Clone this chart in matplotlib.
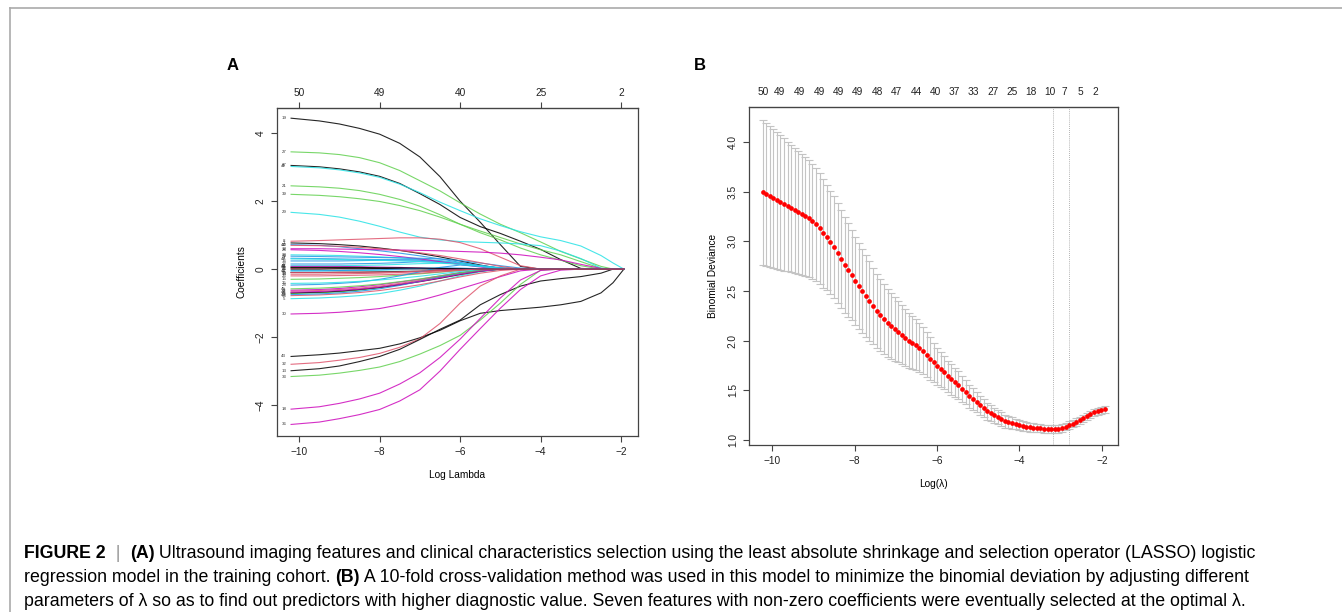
import numpy as np
import matplotlib
matplotlib.use('Agg')
import matplotlib.pyplot as plt
from matplotlib.lines import Line2D

plt.rcParams['font.family'] = ['Liberation Sans', 'DejaVu Sans']

W, H = 1342, 612

# R default palette, glmnet cycles col = 1:6 over the variables
r_cols = ['#000000', '#DF536B', '#61D04F', '#2297E6', '#28E2E5', '#CD0BBC']

# ---------------- panel A: LASSO coefficient paths ----------------
coef_knots = [-10.2, -9.5, -9, -8.5, -8, -7.5, -7, -6.5, -6, -5.5, -5, -4.5,
              -4, -3.5, -3, -2.5, -2.2, -1.93]

# large positive coefficients
pos_ids = [19, 27, 37, 41, 21, 39, 29]
pos_paths = [
    [4.44, 4.36, 4.27, 4.14, 3.97, 3.70, 3.30, 2.72, 2.00, 1.38, 0.72, 0.08, 0],
    [3.45, 3.42, 3.37, 3.28, 3.13, 2.90, 2.60, 2.30, 1.95, 1.62, 1.32, 1.07, 0.80, 0.52, 0.30, 0.08, 0],
    [3.05, 3.01, 2.95, 2.86, 2.73, 2.52, 2.22, 1.90, 1.52, 1.25, 1.05, 0.82, 0.58, 0.28, 0.02, 0],
    [3.02, 2.98, 2.92, 2.83, 2.70, 2.50, 2.25, 1.97, 1.72, 1.48, 1.28, 1.10, 0.95, 0.84, 0.68, 0.40, 0.18, 0],
    [2.45, 2.42, 2.38, 2.31, 2.20, 2.05, 1.85, 1.60, 1.32, 1.07, 0.86, 0.62, 0.42, 0.26, 0.10, 0],
    [2.20, 2.17, 2.13, 2.07, 1.99, 1.87, 1.72, 1.53, 1.32, 1.12, 0.93, 0.74, 0.57, 0.42, 0.22, 0.02, 0],
    [1.67, 1.61, 1.53, 1.41, 1.26, 1.09, 0.94, 0.86, 0.81, 0.79, 0.77, 0.74, 0.69, 0.53, 0.31, 0.03, 0],
]

# large negative coefficients
neg_ids = [30, 43, 32, 13, 33, 18, 36]
neg_paths = [
    [-1.32, -1.30, -1.27, -1.22, -1.16, -1.05, -0.92, -0.76, -0.58, -0.40, -0.22, -0.05, 0],
    [-2.57, -2.52, -2.47, -2.40, -2.33, -2.20, -2.02, -1.80, -1.52, -1.30, -1.22, -1.17, -1.12, -1.05, -0.95, -0.70, -0.40, 0],
    [-2.80, -2.75, -2.68, -2.60, -2.48, -2.30, -2.05, -1.60, -1.00, -0.50, -0.20, 0],
    [-2.99, -2.93, -2.85, -2.72, -2.57, -2.36, -2.07, -1.77, -1.50, -1.05, -0.75, -0.50, -0.35, -0.28, -0.22, -0.12, 0],
    [-3.16, -3.12, -3.06, -2.98, -2.88, -2.72, -2.50, -2.25, -1.95, -1.50, -1.00, -0.45, -0.03, 0],
    [-4.12, -4.05, -3.95, -3.82, -3.65, -3.38, -3.05, -2.60, -2.06, -1.45, -0.85, -0.32, -0.04, 0],
    [-4.57, -4.50, -4.40, -4.28, -4.13, -3.88, -3.55, -3.00, -2.36, -1.75, -1.15, -0.60, -0.20, -0.03, 0],
]

# small coefficients bunched around zero
small_ids = [1, 2, 3, 4, 5, 6, 7, 8, 9, 10, 11, 12, 14, 15, 16, 17, 20, 22,
             23, 24, 25, 26, 28, 31, 34, 35, 38, 40, 42, 44, 45, 46, 47, 48, 49, 50]
small_paths = [
    [0.77, 0.75, 0.72, 0.68, 0.62, 0.55, 0.46, 0.36, 0.24, 0.12, 0.02, 0],
    [-0.65, -0.63, -0.60, -0.56, -0.50, -0.42, -0.33, -0.22, -0.12, -0.04, 0],
    [-0.72, -0.70, -0.67, -0.62, -0.55, -0.46, -0.35, -0.24, -0.12, -0.05, -0.01, 0],
    [0.32, 0.31, 0.30, 0.29, 0.28, 0.27, 0.26, 0.22, 0.16, 0.10, 0.04, 0],
    [-0.87, -0.85, -0.82, -0.78, -0.72, -0.62, -0.50, -0.35, -0.20, -0.08, 0],
    [-0.62, -0.60, -0.57, -0.52, -0.46, -0.38, -0.30, -0.20, -0.10, -0.03, 0],
    [-0.10, -0.10, -0.09, -0.09, -0.08, -0.07, -0.06, -0.04, -0.02, 0],
    [0.82, 0.84, 0.86, 0.88, 0.90, 0.92, 0.92, 0.88, 0.78, 0.60, 0.35, 0.10, 0],
    [0.05, 0.05, 0.04, 0.04, 0.03, 0.02, 0.01, 0],
    [0.72, 0.70, 0.66, 0.60, 0.54, 0.47, 0.39, 0.30, 0.20, 0.10, 0.02, 0],
    [0.10, 0.10, 0.10, 0.11, 0.12, 0.14, 0.16, 0.17, 0.15, 0.10, 0.04, 0],
    [0.60, 0.60, 0.59, 0.58, 0.57, 0.56, 0.55, 0.54, 0.52, 0.50, 0.47, 0.42, 0.35, 0.27, 0.14, 0.02, 0],
    [-0.15, -0.15, -0.14, -0.13, -0.12, -0.10, -0.08, -0.05, -0.02, 0],
    [-0.30, -0.29, -0.27, -0.25, -0.22, -0.18, -0.14, -0.09, -0.04, -0.01, 0],
    [0.24, 0.24, 0.24, 0.25, 0.26, 0.27, 0.28, 0.25, 0.18, 0.10, 0.03, 0],
    [-0.05, -0.05, -0.04, -0.04, -0.03, -0.02, -0.01, 0],
    [0.02, 0.02, 0.02, 0.01, 0.01, 0],
    [0.15, 0.15, 0.15, 0.16, 0.17, 0.19, 0.22, 0.20, 0.15, 0.08, 0.02, 0],
    [0.42, 0.41, 0.40, 0.38, 0.36, 0.33, 0.29, 0.24, 0.17, 0.09, 0.02, 0],
    [0.57, 0.55, 0.52, 0.48, 0.43, 0.37, 0.30, 0.22, 0.14, 0.06, 0],
    [-0.70, -0.68, -0.65, -0.60, -0.54, -0.46, -0.37, -0.27, -0.16, -0.06, 0],
    [-0.20, -0.20, -0.19, -0.18, -0.17, -0.15, -0.12, -0.08, -0.04, -0.01, 0],
    [-0.47, -0.45, -0.42, -0.38, -0.30, -0.20, -0.08, 0.05, 0.12, 0.08, 0.02, 0],
    [0.00, 0.00, 0.01, 0.01, 0.02, 0.02, 0.02, 0.01, 0],
    [0.38, 0.37, 0.36, 0.35, 0.34, 0.33, 0.32, 0.30, 0.25, 0.18, 0.10, 0.03, 0],
    [-0.42, -0.41, -0.39, -0.36, -0.32, -0.27, -0.21, -0.14, -0.07, -0.02, 0],
    [-0.78, -0.76, -0.73, -0.69, -0.63, -0.55, -0.46, -0.35, -0.23, -0.12, -0.04, 0],
    [-0.75, -0.73, -0.70, -0.65, -0.58, -0.48, -0.36, -0.24, -0.12, -0.04, 0],
    [0.08, 0.08, 0.08, 0.07, 0.06, 0.05, 0.03, 0.01, 0],
    [0.70, 0.69, 0.67, 0.64, 0.60, 0.55, 0.48, 0.40, 0.30, 0.19, 0.08, 0],
    [-0.58, -0.56, -0.53, -0.49, -0.44, -0.37, -0.29, -0.20, -0.11, -0.04, 0],
    [-0.05, -0.05, -0.04, -0.03, -0.02, 0.00, 0.02, 0.04, 0.03, 0.01, 0],
    [0.30, 0.29, 0.28, 0.27, 0.26, 0.24, 0.22, 0.19, 0.14, 0.08, 0.02, 0],
    [-0.68, -0.66, -0.63, -0.59, -0.53, -0.45, -0.36, -0.26, -0.15, -0.06, 0],
    [0.05, 0.05, 0.05, 0.05, 0.04, 0.04, 0.03, 0.02, 0.01, 0],
    [-0.10, -0.10, -0.10, -0.09, -0.09, -0.08, -0.06, -0.04, -0.02, 0],
]

top_a_pos = [-10, -8, -6, -4, -2]
top_a_lab = ['50', '49', '40', '25', '2']

# ---------------- panel B: 10-fold CV binomial deviance ----------------
cv_loglam = [-10.23, -10.14, -10.06, -9.97, -9.88, -9.80, -9.71, -9.62, -9.54, -9.45,
             -9.37, -9.28, -9.19, -9.11, -9.02, -8.93, -8.85, -8.76, -8.67, -8.59,
             -8.50, -8.41, -8.33, -8.24, -8.15, -8.07, -7.98, -7.90, -7.81, -7.72,
             -7.64, -7.55, -7.46, -7.38, -7.29, -7.20, -7.12, -7.03, -6.94, -6.86,
             -6.77, -6.69, -6.60, -6.51, -6.43, -6.34, -6.25, -6.17, -6.08, -5.99,
             -5.91, -5.82, -5.73, -5.65, -5.56, -5.48, -5.39, -5.30, -5.22, -5.13,
             -5.04, -4.96, -4.87, -4.78, -4.70, -4.61, -4.52, -4.44, -4.35, -4.27,
             -4.18, -4.09, -4.01, -3.92, -3.83, -3.75, -3.66, -3.57, -3.49, -3.40,
             -3.31, -3.23, -3.14, -3.06, -2.97, -2.88, -2.80, -2.71, -2.62, -2.54,
             -2.45, -2.36, -2.28, -2.19, -2.10, -2.02, -1.93]
cv_mean = [3.49, 3.47, 3.45, 3.43, 3.41, 3.39, 3.37, 3.35, 3.33, 3.31,
           3.29, 3.27, 3.25, 3.23, 3.20, 3.17, 3.13, 3.08, 3.04, 2.99,
           2.94, 2.88, 2.82, 2.76, 2.71, 2.66, 2.60, 2.55, 2.50, 2.45,
           2.40, 2.35, 2.30, 2.26, 2.22, 2.18, 2.15, 2.12, 2.09, 2.06,
           2.03, 2.00, 1.98, 1.96, 1.93, 1.90, 1.86, 1.82, 1.78, 1.74,
           1.71, 1.68, 1.64, 1.61, 1.58, 1.55, 1.51, 1.48, 1.44, 1.41,
           1.38, 1.35, 1.32, 1.29, 1.27, 1.25, 1.23, 1.21, 1.19, 1.18,
           1.17, 1.16, 1.15, 1.14, 1.135, 1.13, 1.125, 1.12, 1.12, 1.115,
           1.113, 1.11, 1.11, 1.115, 1.125, 1.135, 1.15, 1.165, 1.18, 1.20,
           1.22, 1.24, 1.26, 1.28, 1.29, 1.30, 1.31]
cv_se = [0.73, 0.72, 0.71, 0.70, 0.69, 0.68, 0.67, 0.65, 0.64, 0.63,
         0.62, 0.61, 0.60, 0.59, 0.58, 0.57, 0.56, 0.55, 0.53, 0.52,
         0.51, 0.50, 0.49, 0.48, 0.47, 0.45, 0.44, 0.43, 0.42, 0.41,
         0.40, 0.38, 0.37, 0.36, 0.35, 0.34, 0.33, 0.32, 0.31, 0.30,
         0.29, 0.28, 0.27, 0.26, 0.245, 0.235, 0.225, 0.215, 0.20, 0.19,
         0.18, 0.17, 0.16, 0.155, 0.145, 0.14, 0.13, 0.12, 0.115, 0.11,
         0.10, 0.095, 0.09, 0.085, 0.08, 0.076, 0.072, 0.068, 0.064, 0.06,
         0.057, 0.054, 0.05, 0.048, 0.046, 0.045, 0.044, 0.043, 0.042, 0.041,
         0.04, 0.04, 0.04, 0.04, 0.04, 0.038, 0.038, 0.037, 0.037, 0.036,
         0.036, 0.035, 0.035, 0.035, 0.035, 0.035, 0.035]
lambda_min = -3.18
lambda_1se = -2.80

top_b_pos = [-10.21, -9.81, -9.33, -8.86, -8.39, -7.92, -7.45, -6.98, -6.51, -6.04,
             -5.58, -5.11, -4.64, -4.18, -3.71, -3.26, -2.92, -2.52, -2.15]
top_b_lab = ['50', '49', '49', '49', '49', '49', '48', '47', '44', '40',
             '37', '33', '27', '25', '18', '10', '7', '5', '2']

caption = [
    [('FIGURE 2', 'bold', 'black'), ('  |  ', 'normal', '#9a9a9a'), ('(A)', 'bold', 'black'),
     (' Ultrasound imaging features and clinical characteristics selection using the least '
      'absolute shrinkage and selection operator (LASSO) logistic', 'normal', 'black')],
    [('regression model in the training cohort. ', 'normal', 'black'), ('(B)', 'bold', 'black'),
     (' A 10-fold cross-validation method was used in this model to minimize the binomial '
      'deviation by adjusting different', 'normal', 'black')],
    [('parameters of \u03bb so as to find out predictors with higher diagnostic value. Seven '
      'features with non-zero coefficients were eventually selected at the optimal \u03bb.',
      'normal', 'black')],
]


def r_style(ax, xlim, ylim):
    ax.set_xlim(xlim)
    ax.set_ylim(ylim)
    for s in ax.spines.values():
        s.set_color('#444444')
        s.set_linewidth(0.9)
    ax.tick_params(direction='out', length=4, width=0.8, color='#444444',
                   labelsize=7.3, labelcolor='#222222', pad=4)
    for lab in ax.get_yticklabels():
        lab.set_rotation(90)
        lab.set_va('center')


fig = plt.figure(figsize=(W / 100, H / 100), dpi=100)

# panel A
axA = fig.add_axes([277 / W, 1 - 436 / H, 361 / W, 328 / H])
groups = [(pos_ids, pos_paths), (neg_ids, neg_paths), (small_ids, small_paths)]
for ids, paths in groups:
    for vid, row in zip(ids, paths):
        vals = list(row) + [0.0] * (len(coef_knots) - len(row))
        col = r_cols[(vid - 1) % 6]
        axA.plot(coef_knots, vals, color=col, lw=0.8, alpha=0.85)
        axA.text(-10.38, row[0], str(vid), fontsize=3.2, color='#333333',
                 ha='center', va='center')
axA.set_xticks([-10, -8, -6, -4, -2])
axA.set_xticklabels(['\u221210', '\u22128', '\u22126', '\u22124', '\u22122'])
axA.set_yticks([-4, -2, 0, 2, 4])
axA.set_yticklabels(['\u22124', '\u22122', '0', '2', '4'])
r_style(axA, (-10.55, -1.58), (-4.91, 4.74))
axA.set_xlabel('Log Lambda', fontsize=7.3, labelpad=9)
axA.set_ylabel('Coefficients', fontsize=7.3, labelpad=7)
secA = axA.secondary_xaxis('top')
secA.set_xticks(top_a_pos)
secA.set_xticklabels(top_a_lab)
secA.tick_params(direction='out', length=4, width=0.8, color='#444444',
                 labelsize=7.3, labelcolor='#222222', pad=3)

# panel B
axB = fig.add_axes([749 / W, 1 - 445 / H, 369 / W, 338 / H])
axB.errorbar(cv_loglam, cv_mean, yerr=cv_se, fmt='none', ecolor='#c4c4c4',
             elinewidth=0.8, capsize=2.8, capthick=0.8)
axB.plot(cv_loglam, cv_mean, 'o', color='red', ms=3.4, mec='none', zorder=3)
for v in (lambda_min, lambda_1se):
    axB.axvline(v, color='#999999', lw=0.6, ls=(0, (1, 1.5)))
axB.set_xticks([-10, -8, -6, -4, -2])
axB.set_xticklabels(['\u221210', '\u22128', '\u22126', '\u22124', '\u22122'])
axB.set_yticks([1.0, 1.5, 2.0, 2.5, 3.0, 3.5, 4.0])
axB.set_yticklabels(['1.0', '1.5', '2.0', '2.5', '3.0', '3.5', '4.0'])
r_style(axB, (-10.56, -1.61), (0.95, 4.35))
axB.set_xlabel('Log(\u03bb)', fontsize=7.3, labelpad=9)
axB.set_ylabel('Binomial Deviance', fontsize=7.3, labelpad=7)
secB = axB.secondary_xaxis('top')
secB.set_xticks(top_b_pos)
secB.set_xticklabels(top_b_lab)
secB.tick_params(length=0, labelsize=7.3, labelcolor='#222222', pad=7)

fig.text(233 / W, 1 - 65 / H, 'A', fontsize=12, weight='bold', ha='center', va='center')
fig.text(700 / W, 1 - 65 / H, 'B', fontsize=12, weight='bold', ha='center', va='center')

# light frame around the figure (open on right/bottom as in the page crop)
fig.add_artist(Line2D([10 / W, 10 / W], [0, 1 - 8 / H], transform=fig.transFigure,
                      color='#aaaaaa', lw=1.2))
fig.add_artist(Line2D([10 / W, 1], [1 - 8 / H, 1 - 8 / H], transform=fig.transFigure,
                      color='#aaaaaa', lw=1.2))

# caption, fitted so the first line spans the same width as the original
renderer = fig.canvas.get_renderer()


def run_width(runs, size):
    total = 0
    for txt, wt, col in runs:
        t = fig.text(0, 0, txt, fontsize=size, weight=wt)
        total += t.get_window_extent(renderer=renderer).width
        t.remove()
    return total


cap_size = 12 * 1238 / run_width(caption[0], 12)
for line, y in zip(caption, [553, 578, 602]):
    x = 24
    for txt, wt, col in line:
        t = fig.text(x / W, 1 - y / H, txt, fontsize=cap_size, weight=wt, color=col,
                     ha='left', va='center')
        x += t.get_window_extent(renderer=renderer).width

fig.savefig('out.png', dpi=100)
